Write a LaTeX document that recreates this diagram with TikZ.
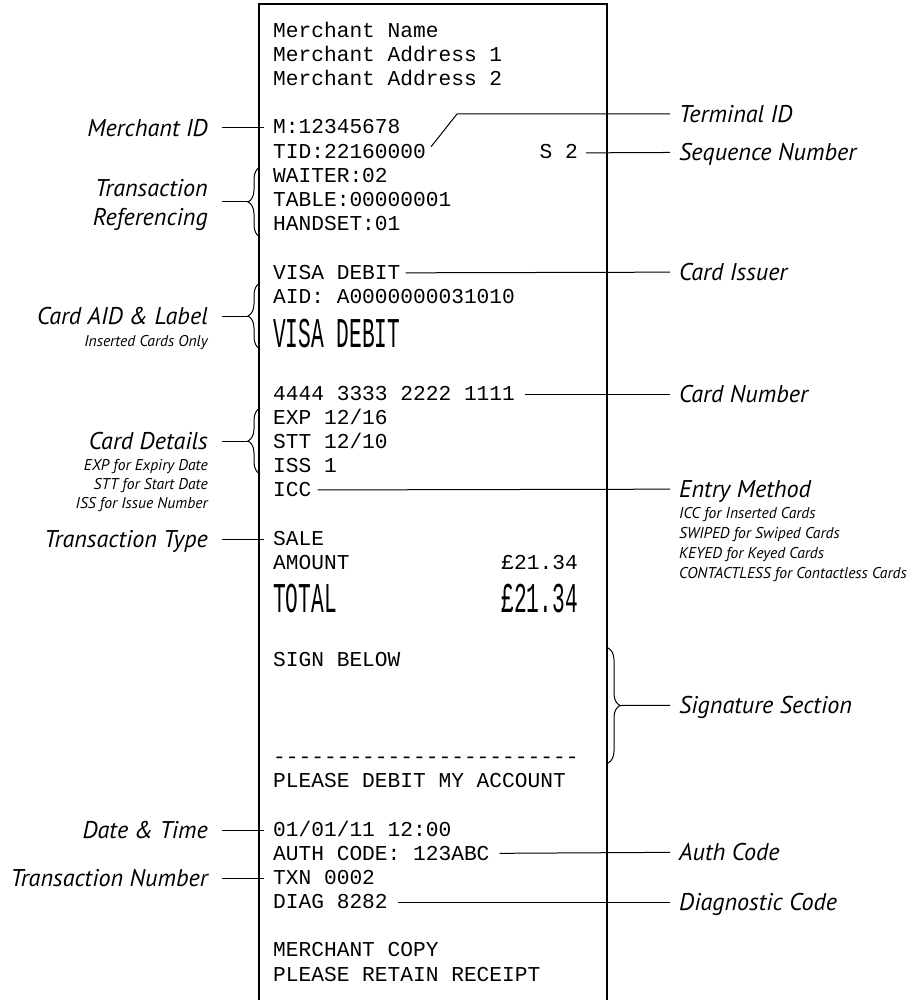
\documentclass[tikz,border=0pt]{standalone}
\usepackage{fontspec}
\setmonofont{Liberation Mono}
\newfontfamily\labelfont{PT Sans}
\usetikzlibrary{decorations.pathreplacing}
\tikzset{
	receipt/.style={anchor=west, inner sep=0pt, text height=12pt, text depth=0pt,
			font=\ttfamily\fontsize{21.2}{24}\selectfont},
	tall/.style={receipt, text height=24pt},
	callout/.style={inner sep=0pt, text height=17pt, text depth=0pt,
			font=\labelfont\itshape\fontsize{24.2}{29}\selectfont},
	hint/.style={inner sep=0pt, text height=11pt, text depth=0pt,
			font=\labelfont\itshape\fontsize{15.6}{19}\selectfont},
	leader/.style={line width=1pt, shorten <=#1, shorten >=9pt},
	leader/.default=8pt,
	curly/.style={line width=1pt, decorate, decoration={brace, amplitude=12pt}}
}

\begin{document}
\begin{tikzpicture}[x=1pt, y=-1pt]
		\useasboundingbox (0, 0) rectangle (921, 1000);
		\draw[line width=2pt] (259, 1005) to (259, 4) to (607, 4) to (607, 1005);

		\node[receipt] (mname) at (273, 32) {Merchant Name};
		\node[receipt] (maddr1) at (273, 56) {Merchant Address 1};
		\node[receipt] (maddr2) at (273, 80) {Merchant Address 2};
		\node[receipt] (mid) at (273, 128) {M:12345678};
		\node[receipt] (tid) at (273, 153) {TID:22160000};
		\node[receipt, anchor=east] (seq) at (578, 153) {S 2};
		\node[receipt] (waiter) at (273, 177) {WAITER:02};
		\node[receipt] (table) at (273, 201) {TABLE:00000001};
		\node[receipt] (handset) at (273, 225) {HANDSET:01};
		\node[receipt] (issuer) at (273, 273) {VISA DEBIT};
		\node[receipt] (aid) at (273, 297) {AID: A0000000031010};
		\node[tall] (cardlabel) at (273, 335) {\scalebox{1}[2]{VISA DEBIT}};
		\node[receipt] (pan) at (273, 394) {4444 3333 2222 1111};
		\node[receipt] (exp) at (273, 418) {EXP 12/16};
		\node[receipt] (stt) at (273, 442) {STT 12/10};
		\node[receipt] (iss) at (273, 466) {ISS 1};
		\node[receipt] (icc) at (273, 490) {ICC};
		\node[receipt] (sale) at (273, 539) {SALE};
		\node[receipt] (amount) at (273, 563) {AMOUNT};
		\node[receipt, anchor=east] (amountval) at (578, 563) {£21.34};
		\node[tall] (total) at (273, 600) {\scalebox{1}[2]{TOTAL}};
		\node[tall, anchor=east] (totalval) at (578, 600) {\scalebox{1}[2]{£21.34}};
		\node[receipt] (sign) at (273, 660) {SIGN BELOW};
		\node[receipt] (sigline) at (273, 757) {------------------------};
		\node[receipt] (debit) at (273, 781) {PLEASE DEBIT MY ACCOUNT};
		\node[receipt] (datetime) at (273, 830) {01/01/11 12:00};
		\node[receipt] (auth) at (273, 854) {AUTH CODE: 123ABC};
		\node[receipt] (txn) at (273, 878) {TXN 0002};
		\node[receipt] (diag) at (273, 902) {DIAG 8282};
		\node[receipt] (copy) at (273, 950) {MERCHANT COPY};
		\node[receipt] (retain) at (273, 975) {PLEASE RETAIN RECEIPT};

		\node[callout, anchor=east] (midLab) at (208, 128) {Merchant ID};
		\node[callout, anchor=east, align=right, text height=, text depth=] (refLab) at (208, 205) {Transaction\\Referencing};
		\node[callout, anchor=east] (aidLab) at (208, 316) {Card AID \& Label};
		\node[hint, anchor=east] (aidHint) at (208, 341) {Inserted Cards Only};
		\node[callout, anchor=east] (cardLab) at (208, 441) {Card Details};
		\node[hint, anchor=east] (expHint) at (208, 465) {EXP for Expiry Date};
		\node[hint, anchor=east] (sttHint) at (208, 484) {STT for Start Date};
		\node[hint, anchor=east] (issHint) at (208, 503) {ISS for Issue Number};
		\node[callout, anchor=east] (typeLab) at (208, 539) {Transaction Type};
		\node[callout, anchor=east] (dateLab) at (208, 830) {Date \& Time};
		\node[callout, anchor=east] (txnLab) at (208, 878) {Transaction Number};

		\node[callout, anchor=west] (tidLab) at (679, 114) {Terminal ID};
		\node[callout, anchor=west] (seqLab) at (679, 152) {Sequence Number};
		\node[callout, anchor=west] (issuerLab) at (679, 272) {Card Issuer};
		\node[callout, anchor=west] (panLab) at (679, 394) {Card Number};
		\node[callout, anchor=west] (entryLab) at (679, 489) {Entry Method};
		\node[hint, anchor=west] (iccHint) at (679, 513) {ICC for Inserted Cards};
		\node[hint, anchor=west] (swipeHint) at (679, 533) {SWIPED for Swiped Cards};
		\node[hint, anchor=west] (keyHint) at (679, 553) {KEYED for Keyed Cards};
		\node[hint, anchor=west] (ctlsHint) at (679, 573) {CONTACTLESS for Contactless Cards};
		\node[callout, anchor=west] (sigLab) at (679, 705) {Signature Section};
		\node[callout, anchor=west] (authLab) at (679, 852) {Auth Code};
		\node[callout, anchor=west] (diagLab) at (679, 902) {Diagnostic Code};

		\draw[curly] (260, 237) to (260, 167);
		\draw[curly] (260, 349) to (260, 283);
		\draw[curly] (260, 474) to (260, 408);
		\draw[curly] (608, 648) to (608, 763);
		\coordinate (refTip) at (248, 202);
		\coordinate (aidTip) at (248, 316);
		\coordinate (cardTip) at (248, 441);
		\coordinate (sigTip) at (620, 705.5);
		\coordinate (tidBend) at (457, 114);

		\draw[leader=14pt] (midLab) to (mid);
		\draw[leader=14pt, shorten >=0pt] (refLab.east |- refTip) to (refTip);
		\draw[leader=14pt, shorten >=0pt] (aidLab) to (aidTip);
		\draw[leader=14pt, shorten >=0pt] (cardLab) to (cardTip);
		\draw[leader=14pt] (typeLab) to (sale);
		\draw[leader=14pt] (dateLab) to (datetime);
		\draw[leader=14pt] (txnLab) to (txn);

		\draw[leader] (tid.east) -- (tidBend) -- (tidLab);
		\draw[leader] (seq) to (seqLab);
		\draw[leader=5pt] (issuer) to (issuerLab);
		\draw[leader=10pt] (pan) to (panLab);
		\draw[leader=6pt] (icc) to (entryLab);
		\draw[leader=0pt] (sigTip) to (sigLab);
		\draw[leader=10pt] (auth) to (authLab);
		\draw[leader=10pt] (diag) to (diagLab);
	\end{tikzpicture}
\end{document}
